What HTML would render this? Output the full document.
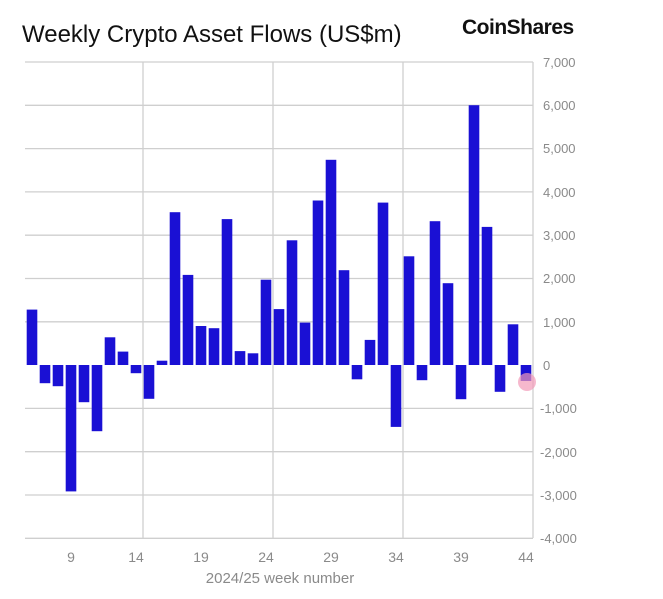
<!DOCTYPE html><html><head><style>body{margin:0;background:#fff}</style></head><body>
<svg width="663" height="594" xmlns="http://www.w3.org/2000/svg" font-family="Liberation Sans, sans-serif">
<rect width="663" height="594" fill="#fff"/>
<text x="22" y="42" font-size="24" fill="#111">Weekly Crypto Asset Flows (US$m)</text>
<text x="462" y="34" font-size="21" font-weight="bold" fill="#111" letter-spacing="-0.5">CoinShares</text>
<g stroke="#cfcfcf" stroke-width="1.3">
<line x1="25" y1="62" x2="533" y2="62"/><line x1="25" y1="105.3" x2="533" y2="105.3"/><line x1="25" y1="148.6" x2="533" y2="148.6"/><line x1="25" y1="191.9" x2="533" y2="191.9"/><line x1="25" y1="235.2" x2="533" y2="235.2"/><line x1="25" y1="278.5" x2="533" y2="278.5"/><line x1="25" y1="321.8" x2="533" y2="321.8"/><line x1="25" y1="408.4" x2="533" y2="408.4"/><line x1="25" y1="451.7" x2="533" y2="451.7"/><line x1="25" y1="495" x2="533" y2="495"/><line x1="25" y1="538.3" x2="533" y2="538.3"/>
<line x1="143" y1="62" x2="143" y2="538"/><line x1="273" y1="62" x2="273" y2="538"/><line x1="403" y1="62" x2="403" y2="538"/><line x1="533" y1="62" x2="533" y2="538"/>
</g>
<g fill="#1a10d4">
<rect x="26.7" y="309.6" width="10.6" height="55.4"/>
<rect x="39.7" y="365" width="10.6" height="18.2"/>
<rect x="52.7" y="365" width="10.6" height="21.2"/>
<rect x="65.7" y="365" width="10.6" height="126.4"/>
<rect x="78.7" y="365" width="10.6" height="37.2"/>
<rect x="91.7" y="365" width="10.6" height="66.2"/>
<rect x="104.7" y="337.3" width="10.6" height="27.7"/>
<rect x="117.7" y="351.6" width="10.6" height="13.4"/>
<rect x="130.7" y="365" width="10.6" height="8.2"/>
<rect x="143.7" y="365" width="10.6" height="33.8"/>
<rect x="156.7" y="360.7" width="10.6" height="4.3"/>
<rect x="169.7" y="212.2" width="10.6" height="152.8"/>
<rect x="182.7" y="274.9" width="10.6" height="90.1"/>
<rect x="195.7" y="326" width="10.6" height="39"/>
<rect x="208.7" y="328.2" width="10.6" height="36.8"/>
<rect x="221.7" y="219.1" width="10.6" height="145.9"/>
<rect x="234.7" y="351.1" width="10.6" height="13.9"/>
<rect x="247.7" y="353.3" width="10.6" height="11.7"/>
<rect x="260.7" y="279.7" width="10.6" height="85.3"/>
<rect x="273.7" y="309.1" width="10.6" height="55.9"/>
<rect x="286.7" y="240.3" width="10.6" height="124.7"/>
<rect x="299.7" y="322.6" width="10.6" height="42.4"/>
<rect x="312.7" y="200.5" width="10.6" height="164.5"/>
<rect x="325.7" y="159.8" width="10.6" height="205.2"/>
<rect x="338.7" y="270.2" width="10.6" height="94.8"/>
<rect x="351.7" y="365" width="10.6" height="14.3"/>
<rect x="364.7" y="339.9" width="10.6" height="25.1"/>
<rect x="377.7" y="202.6" width="10.6" height="162.4"/>
<rect x="390.7" y="365" width="10.6" height="61.9"/>
<rect x="403.7" y="256.3" width="10.6" height="108.7"/>
<rect x="416.7" y="365" width="10.6" height="15.2"/>
<rect x="429.7" y="221.2" width="10.6" height="143.8"/>
<rect x="442.7" y="283.2" width="10.6" height="81.8"/>
<rect x="455.7" y="365" width="10.6" height="34.2"/>
<rect x="468.7" y="105.2" width="10.6" height="259.8"/>
<rect x="481.7" y="226.9" width="10.6" height="138.1"/>
<rect x="494.7" y="365" width="10.6" height="26.8"/>
<rect x="507.7" y="324.3" width="10.6" height="40.7"/>
<rect x="520.7" y="365" width="10.6" height="16"/>
</g>
<circle cx="527" cy="382" r="9" fill="#f29ab8" opacity="0.7"/>
<g font-size="13" fill="#8a8a8a">
<text x="543" y="67">7,000</text><text x="543" y="110">6,000</text><text x="543" y="153">5,000</text><text x="543" y="197">4,000</text><text x="543" y="240">3,000</text><text x="543" y="283">2,000</text><text x="543" y="327">1,000</text><text x="543" y="370">0</text><text x="540" y="413">-1,000</text><text x="540" y="457">-2,000</text><text x="540" y="500">-3,000</text><text x="540" y="543">-4,000</text>
</g>
<g font-size="14" fill="#8a8a8a" text-anchor="middle">
<text x="71" y="562">9</text><text x="136" y="562">14</text><text x="201" y="562">19</text><text x="266" y="562">24</text><text x="331" y="562">29</text><text x="396" y="562">34</text><text x="461" y="562">39</text><text x="526" y="562">44</text>
<text x="280" y="583" font-size="15">2024/25 week number</text>
</g>
</svg></body></html>
